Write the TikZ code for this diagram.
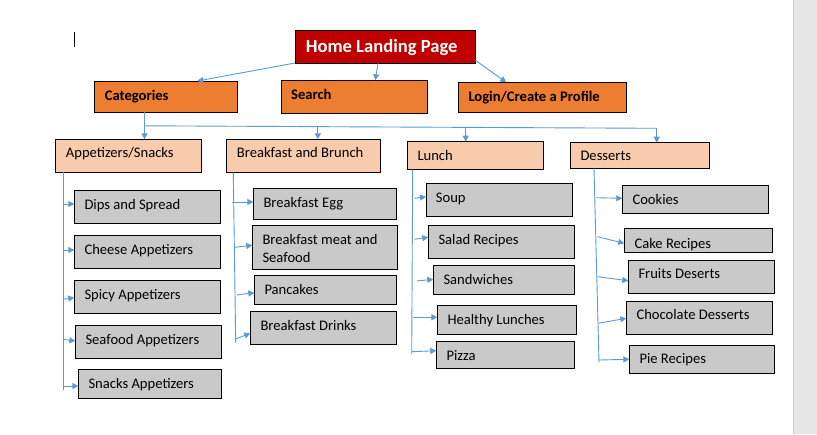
\documentclass[tikz,border=0pt]{standalone}
\usepackage{fontspec}
\setmainfont{Carlito}
\usetikzlibrary{arrows.meta}

\definecolor{homeRed}{HTML}{C00000}
\definecolor{mainOrange}{HTML}{ED7D31}
\definecolor{subPeach}{HTML}{F8CBAD}
\definecolor{leafGray}{HTML}{C9C9C9}
\definecolor{linkBlue}{HTML}{5B9BD5}
\definecolor{paneGray}{HTML}{E6E6E6}
\definecolor{paneEdge}{HTML}{CDCDCD}

\tikzset{
  box/.style={draw=black, line width=1pt, anchor=north west, inner sep=0pt, outer sep=0pt},
  homebox/.style={box, fill=homeRed},
  topbox/.style={box, fill=mainOrange},
  midbox/.style={box, fill=subPeach},
  leafbox/.style={box, fill=leafGray},
  lbl/.style={anchor=base west, inner sep=0pt, align=left,
    font=\fontsize{14.6}{18.3}\selectfont},
  trunk/.style={draw=linkBlue, line width=0.9pt},
  link/.style={trunk, -{Triangle[length=6pt,width=6pt]}},
}

% box: style, name, x, y, width, height, text x, text y (last baseline), text
\newcommand\menubox[9]{%
  \node[#1, minimum width=#5pt, minimum height=#6pt] (#2) at (#3,#4) {};
  \node[lbl] (#2-t) at (#7,#8) {#9};
}

\begin{document}
\begin{tikzpicture}[x=1pt,y=-1pt]
\useasboundingbox (0,0) rectangle (817,434);
\fill[white] (0,0) rectangle (817,434);

% side pane and text cursor
\fill[paneGray] (793.5,0) rectangle (817,434);
\draw[paneEdge, line width=1pt] (793.5,0) -- (793.5,434);
\draw[black, line width=0.9pt] (74.9,32) -- (74.9,47);

% top level
\node[homebox, minimum width=180pt, minimum height=33pt] (home) at (295,30) {};
\node[lbl, font=\fontsize{18.6}{22}\selectfont\bfseries, text=white] (home-t) at (305.6,52) {Home Landing Page};

\menubox{topbox}{cat}{94.5}{81}{143}{31.3}{104.7}{100}{\bfseries Categories}
\menubox{topbox}{search}{281.2}{80.3}{146}{33.4}{291}{99}{\bfseries Search}
\menubox{topbox}{login}{458.3}{82.3}{168}{29.7}{468.3}{101}{\bfseries Login/Create a Profile}

% categories
\menubox{midbox}{app}{55.3}{139.3}{146.4}{33}{65.7}{157.7}{Appetizers/Snacks}
\menubox{midbox}{bfast}{226.3}{139.3}{154}{33}{236.7}{157.7}{Breakfast and Brunch}
\menubox{midbox}{lunch}{407.3}{141.7}{136}{27.6}{417.3}{160}{Lunch}
\menubox{midbox}{dess}{570.3}{142.7}{139}{25.6}{580.3}{160.7}{Desserts}

% appetizers
\menubox{leafbox}{dips}{74.3}{190.3}{146}{33}{84.3}{209}{Dips and Spread}
\menubox{leafbox}{cheese}{74.3}{235.3}{146}{32.7}{84.3}{254}{Cheese Appetizers}
\menubox{leafbox}{spicy}{74.3}{280.3}{146}{32.7}{84.3}{299}{Spicy Appetizers}
\menubox{leafbox}{seafood}{75.3}{325.3}{146}{33}{85.3}{344}{Seafood Appetizers}
\menubox{leafbox}{snacks}{78.3}{369.3}{143}{29}{88.3}{388.3}{Snacks Appetizers}

% breakfast
\menubox{leafbox}{egg}{253.3}{188.3}{143}{31}{263.3}{207.3}{Breakfast Egg}
\menubox{leafbox}{meat}{252.3}{225.3}{145}{44}{262.3}{262.6}{Breakfast meat and\\Seafood}
\menubox{leafbox}{pancakes}{254.3}{275.3}{142}{29}{264.3}{294}{Pancakes}
\menubox{leafbox}{drinks}{250.3}{311.7}{146}{32.3}{260.3}{330}{Breakfast Drinks}

% lunch
\menubox{leafbox}{soup}{426}{183.3}{146.3}{33}{435.7}{202.3}{Soup}
\menubox{leafbox}{salad}{428.3}{225.3}{146}{33}{438.3}{244}{Salad Recipes}
\menubox{leafbox}{sandw}{433.3}{265.3}{141}{29}{443.3}{284}{Sandwiches}
\menubox{leafbox}{healthy}{437.3}{305.7}{139}{28.3}{447.3}{324}{Healthy Lunches}
\menubox{leafbox}{pizza}{436.3}{341.3}{138}{27}{446.3}{360}{Pizza}

% desserts
\menubox{leafbox}{cookies}{622.3}{185.3}{146}{27.7}{632.3}{204}{Cookies}
\node[leafbox, minimum width=148pt, minimum height=23.6pt] (cake) at (624.3,228.7) {};
\begin{scope}
  \clip (cake.north west) rectangle (cake.south east);
  \node[lbl] (cake-t) at (634.3,248.4) {Cake Recipes};
\end{scope}
\draw[black, line width=1pt] (cake.north west) rectangle (cake.south east);
\menubox{leafbox}{fruits}{628.3}{260.3}{146}{33}{638.3}{278.7}{Fruits Deserts}
\menubox{leafbox}{choc}{626.3}{301.7}{146}{32.3}{636.3}{319.3}{Chocolate Desserts}
\menubox{leafbox}{pie}{629.3}{345.3}{145}{28}{639.3}{363.3}{Pie Recipes}

% home page links
\draw[link] (home.south west) -- (197.3,0 |- cat.north);
\draw[link] (378,0 |- home.south) -- (375.3,0 |- search.north);
\draw[link] (home.east |- 0,60) -- (506.2,0 |- login.north);

% category bus
\coordinate (busL) at (145.3,125.8);
\coordinate (busR) at (657,128.3);
\draw[link] (144.5,0 |- cat.south) -- (144.5,0 |- app.north);
\draw[trunk] (busL) -- (busR);
\draw[link] (317.9,127) -- (317.9,0 |- bfast.north);
\draw[link] (465.5,127.7) -- (465.8,0 |- lunch.north);
\draw[link] (656.7,128.3) -- (656.7,0 |- dess.north);

% appetizers branch
\coordinate (appTop) at (63,0 |- app.south);
\coordinate (appBot) at (63,390);
\draw[trunk] (appTop) -- (appBot);
\draw[link] (64,204) -- (dips.west |- 0,204);
\draw[link] (63,250) -- (cheese.west |- 0,250);
\draw[link] (63,299.3) -- (spicy.west |- 0,297.7);
\draw[link] (63,339.3) -- (seafood.west |- 0,341);
\draw[link] (63,386) -- (snacks.west |- 0,386);

% breakfast branch
\coordinate (bfTop) at (233.3,0 |- bfast.south);
\coordinate (bfBot) at (235.7,342.7);
\draw[trunk] (bfTop) -- (bfBot);
\draw[link] (231.7,202) -- (egg.west |- 0,202);
\draw[link] (235,247.3) -- (meat.west |- 0,245.3);
\draw[link] (236.7,295) -- (pancakes.west |- 0,292.7);
\draw[link] (235.7,339) -- (drinks.west |- 0,333.3);

% lunch branch
\coordinate (luTop) at (412.7,0 |- lunch.south);
\coordinate (luBot) at (411.7,354);
\draw[trunk] (luTop) -- (luBot);
\draw[link] (414.5,198.3) -- (soup.west |- 0,196.7);
\draw[link] (414.5,239.3) -- (salad.west |- 0,237.3);
\draw[link] (416.7,281) -- (sandw.west |- 0,279.3);
\draw[link] (412.5,317.3) -- (healthy.west |- 0,317.3);
\draw[link] (412,351.7) -- (pizza.west |- 0,350.7);

% desserts branch
\coordinate (deTop) at (594,0 |- dess.south);
\coordinate (deBot) at (599,362.7);
\draw[trunk] (deTop) -- (deBot);
\draw[link] (595.7,197.7) -- (cookies.west |- 0,198.3);
\draw[link] (597.3,236.7) -- (cake.west |- 0,243.3);
\draw[link] (597.3,276.7) -- (fruits.west |- 0,280.7);
\draw[link] (598.3,323.3) -- (choc.west |- 0,318.3);
\draw[link] (599,360) -- (pie.west |- 0,359.3);
\end{tikzpicture}
\end{document}
